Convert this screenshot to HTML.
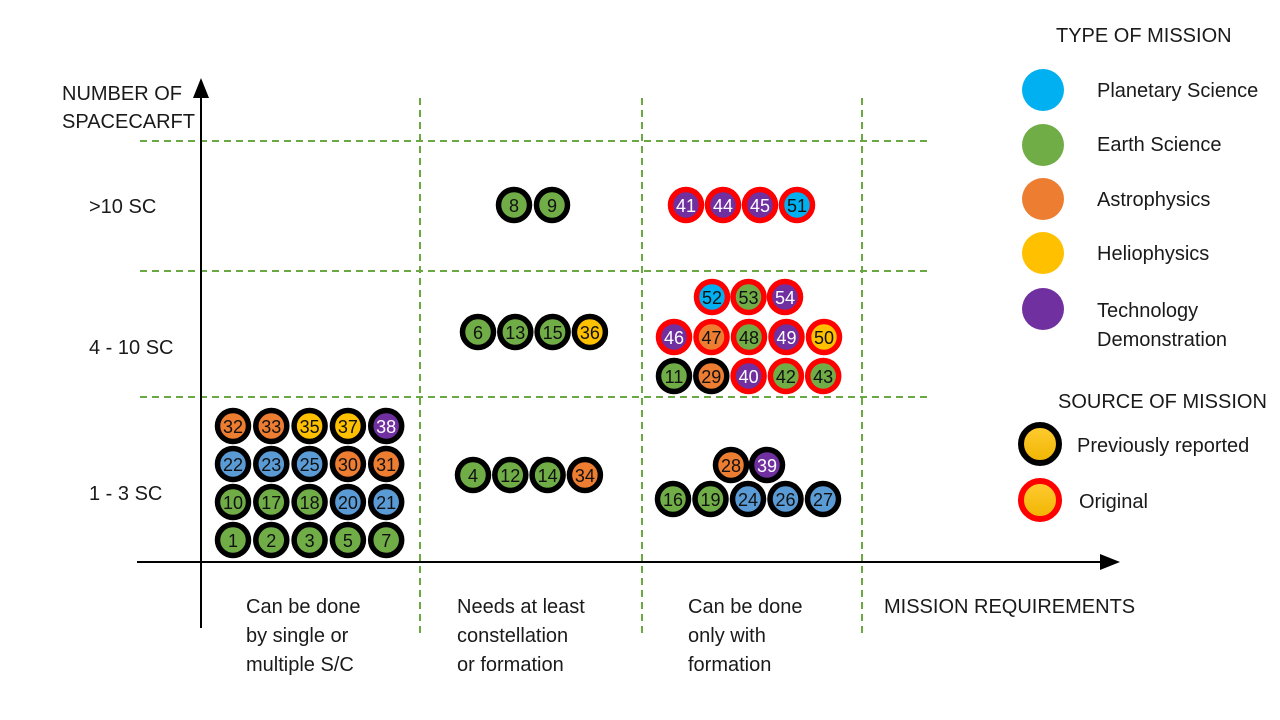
<!DOCTYPE html>
<html><head><meta charset="utf-8">
<style>
html,body{margin:0;padding:0;background:#fff;}
svg{display:block;font-family:"Liberation Sans",sans-serif;}
.t{font-size:20px;fill:#1a1a1a;}
.n{font-size:18px;text-anchor:middle;dominant-baseline:central;}
</style></head>
<body>
<svg id="c" width="1280" height="720" viewBox="0 0 1280 720">
<defs>
<linearGradient id="gold" x1="0" y1="0" x2="0" y2="1"><stop offset="0" stop-color="#ffcc33"/><stop offset="1" stop-color="#f0b400"/></linearGradient>
<marker id="ar" markerWidth="10" markerHeight="10" refX="5" refY="5" orient="auto"><path d="M0,1 L10,5 L0,9 Z" fill="#000"/></marker>
</defs>
<g stroke="#6aa841" stroke-width="2" stroke-dasharray="7,5">
<line x1="140" y1="141" x2="932" y2="141"/>
<line x1="140" y1="271" x2="932" y2="271"/>
<line x1="140" y1="397" x2="932" y2="397"/>
<line x1="420" y1="98" x2="420" y2="635"/>
<line x1="642" y1="98" x2="642" y2="635"/>
<line x1="862" y1="98" x2="862" y2="635"/>
</g>
<line x1="201" y1="628" x2="201" y2="88" stroke="#000" stroke-width="2" marker-end="url(#ar)"/>
<line x1="137" y1="562" x2="1110" y2="562" stroke="#000" stroke-width="2" marker-end="url(#ar)"/>
<text class="t" x="62" y="100">NUMBER OF</text>
<text class="t" x="62" y="128">SPACECARFT</text>
<text class="t" x="89" y="213">&gt;10 SC</text>
<text class="t" x="89" y="354">4 - 10 SC</text>
<text class="t" x="89" y="500">1 - 3 SC</text>
<text class="t" x="884" y="613">MISSION REQUIREMENTS</text>
<g><text class="t" x="246" y="613">Can be done</text><text class="t" x="246" y="642">by single or</text><text class="t" x="246" y="671">multiple S/C</text></g>
<g><text class="t" x="457" y="613">Needs at least</text><text class="t" x="457" y="642">constellation</text><text class="t" x="457" y="671">or formation</text></g>
<g><text class="t" x="688" y="613">Can be done</text><text class="t" x="688" y="642">only with</text><text class="t" x="688" y="671">formation</text></g>
<g>
<text class="t" x="1056" y="42">TYPE OF MISSION</text>
<circle cx="1043" cy="90" r="21" fill="#00B0F0"/><text class="t" x="1097" y="97">Planetary Science</text>
<circle cx="1043" cy="145" r="21" fill="#70AD47"/><text class="t" x="1097" y="151">Earth Science</text>
<circle cx="1043" cy="199" r="21" fill="#ED7D31"/><text class="t" x="1097" y="206">Astrophysics</text>
<circle cx="1043" cy="253" r="21" fill="#FFC000"/><text class="t" x="1097" y="260">Heliophysics</text>
<circle cx="1043" cy="309" r="21" fill="#7030A0"/><text class="t" x="1097" y="317">Technology</text><text class="t" x="1097" y="346">Demonstration</text>
</g>
<g>
<text class="t" x="1058" y="408">SOURCE OF MISSION</text>
<circle cx="1040" cy="444" r="19" fill="url(#gold)" stroke="#000" stroke-width="6"/><text class="t" x="1077" y="452">Previously reported</text>
<circle cx="1040" cy="500" r="19" fill="url(#gold)" stroke="#f00" stroke-width="6"/><text class="t" x="1079" y="508">Original</text>
</g>
<g id="marks"></g>
</svg>
<script>
// type codes: P planetary, E earth, A astro, H helio, T tech, B blue(earth-alt)
// source codes: R previously reported, O original
const g1Ids=[1,2,3,5,7];      const g1Types=['E','E','E','E','E'];  const g1Src=['R','R','R','R','R'];
const g2Ids=[10,17,18,20,21]; const g2Types=['E','E','E','B','B'];  const g2Src=['R','R','R','R','R'];
const g3Ids=[22,23,25,30,31]; const g3Types=['B','B','B','A','A'];  const g3Src=['R','R','R','R','R'];
const g4Ids=[32,33,35,37,38]; const g4Types=['A','A','H','H','T'];  const g4Src=['R','R','R','R','R'];
const g5Ids=[4,12,14,34];     const g5Types=['E','E','E','A'];      const g5Src=['R','R','R','R'];
const g6Ids=[6,13,15,36];     const g6Types=['E','E','E','H'];      const g6Src=['R','R','R','R'];
const g7Ids=[8,9];            const g7Types=['E','E'];              const g7Src=['R','R'];
const g8Ids=[16,19,24,26,27]; const g8Types=['E','E','B','B','B'];  const g8Src=['R','R','R','R','R'];
const g9Ids=[28,39];          const g9Types=['A','T'];              const g9Src=['R','R'];
const g10Ids=[11,29,40,42,43];const g10Types=['E','A','T','E','E']; const g10Src=['R','R','O','O','O'];
const g11Ids=[46,47,48,49,50];const g11Types=['T','A','E','T','H']; const g11Src=['O','O','O','O','O'];
const g12Ids=[52,53,54];      const g12Types=['P','E','T'];         const g12Src=['O','O','O'];
const g13Ids=[41,44,45,51];   const g13Types=['T','T','T','P'];     const g13Src=['O','O','O','O'];

const colors={P:'#00B0F0',E:'#70AD47',A:'#ED7D31',H:'#FFC000',T:'#7030A0',B:'#5B9BD5'};
const groups=[
 [g1Ids,g1Types,g1Src,233,540,38.3],[g2Ids,g2Types,g2Src,233,502,38.3],
 [g3Ids,g3Types,g3Src,233,464,38.3],[g4Ids,g4Types,g4Src,233,426,38.3],
 [g5Ids,g5Types,g5Src,473,475,37.3],[g6Ids,g6Types,g6Src,478,332,37.3],
 [g7Ids,g7Types,g7Src,514,205,38],[g8Ids,g8Types,g8Src,673,499,37.5],
 [g9Ids,g9Types,g9Src,731,465,36],[g10Ids,g10Types,g10Src,674,376,37.3],
 [g11Ids,g11Types,g11Src,674,337,37.5],[g12Ids,g12Types,g12Src,712,297,36.5],
 [g13Ids,g13Types,g13Src,686,205,37]
];
const NS='http://www.w3.org/2000/svg';
const root=document.getElementById('marks');
groups.forEach(([ids,types,src,x0,y0,dx])=>{
 ids.forEach((id,i)=>{
  const cx=x0+i*dx, cy=y0;
  const c=document.createElementNS(NS,'circle');
  c.setAttribute('cx',cx);c.setAttribute('cy',cy);c.setAttribute('r',15.5);
  c.setAttribute('fill',colors[types[i]]);
  c.setAttribute('stroke',src[i]==='O'?'#ff0000':'#000');
  c.setAttribute('stroke-width',5.5);
  
  
  root.appendChild(c);
  const t=document.createElementNS(NS,'text');
  t.setAttribute('x',cx);t.setAttribute('y',cy+1);
  t.setAttribute('class','n');
  t.setAttribute('fill',types[i]==='T'?'#fff':'#111');
  t.textContent=id;
  
  
  root.appendChild(t);
 });
});
</script>
</body></html>
